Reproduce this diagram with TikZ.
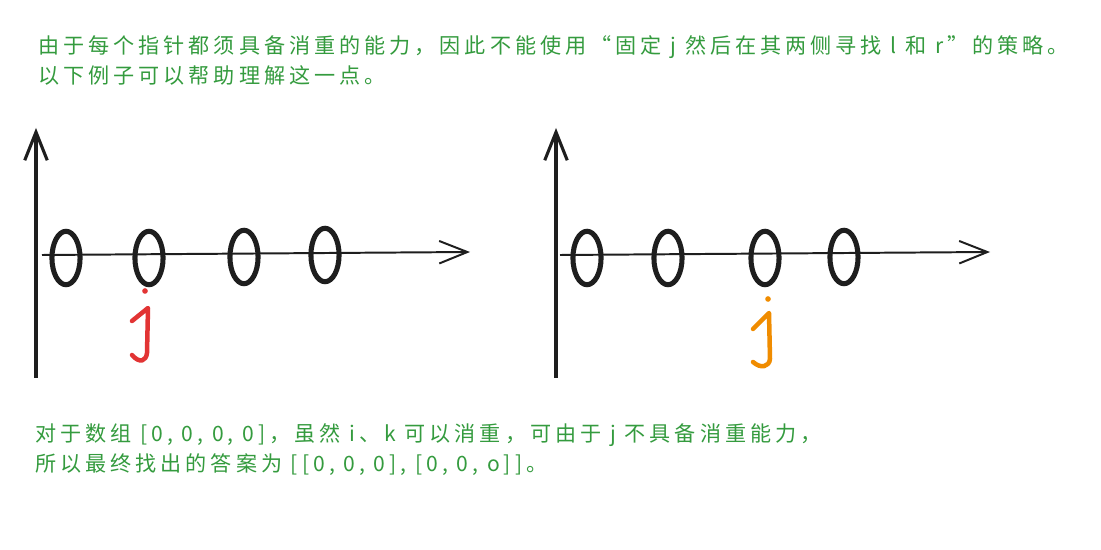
\documentclass[tikz,border=0pt]{standalone}
\usepackage{fontspec}
\usetikzlibrary{arrows.meta,shapes.geometric}
\newfontfamily\cjk[LetterSpace=19]{Noto Sans CJK SC}
\definecolor{notegreen}{RGB}{52,155,62}
\definecolor{jred}{RGB}{226,52,52}
\definecolor{jorange}{RGB}{240,140,0}
\definecolor{ink}{RGB}{30,30,30}
\begin{document}
\begin{tikzpicture}[x=0.025cm, y=-0.025cm,
    note/.style={anchor=west, inner sep=0pt, text=notegreen, font=\cjk\fontsize{15}{18}\selectfont},
    zero/.style={ellipse, draw=ink, line width=3.6pt, minimum width=20pt, minimum height=38pt, inner sep=0pt},
    axis/.style={draw=ink, line width=1.4pt, -{Straight Barb[length=20pt,width=16pt]}},
    jmark/.style={line width=3.2pt, line cap=round, line join=round}]
    \fill[white] (0,0) rectangle (1101,550);
    \useasboundingbox (0,0) rectangle (1101,550);

    % text above
    \node[note] (t1) at (38,47) {由于每个指针都须具备消重的能力，因此不能使用“固定 j 然后在其两侧寻找 l 和 r”的策略。};
    \node[note] (t2) at (38,75) {以下例子可以帮助理解这一点。};

    % left graph
    \coordinate (lo) at (36,378);
    \coordinate (ly) at (36,128);
    \coordinate (lx0) at (42,255);
    \coordinate (lx) at (470,252);
    \draw[axis, line width=2.2pt] (lo) -- (ly);
    \draw[axis] (lx0) -- (lx);
    \node[zero] (l1) at (66,258) {};
    \node[zero] (l2) at (149,258) {};
    \node[zero] (l3) at (244,257) {};
    \node[zero] (l4) at (325,255) {};
    \fill[jred] (145,291) circle (2pt);
    \draw[jred, jmark] (132,321) -- (148,308) -- (147,353) .. controls (146,361) and (140,364) .. (132,355);

    % right graph
    \coordinate (ro) at (556,378);
    \coordinate (ry) at (556,128);
    \coordinate (rx0) at (560,255);
    \coordinate (rx) at (990,252);
    \draw[axis, line width=2.2pt] (ro) -- (ry);
    \draw[axis] (rx0) -- (rx);
    \node[zero] (r1) at (587,258) {};
    \node[zero] (r2) at (668,258) {};
    \node[zero] (r3) at (765,258) {};
    \node[zero] (r4) at (844,257) {};
    \fill[jorange] (768,299) circle (2pt);
    \draw[jorange, jmark] (753,329) -- (769,313) -- (770,359) .. controls (769,367) and (761,369) .. (753,362);

    % text below
    \node[note] (b1) at (35,435) {对于数组 [0, 0, 0, 0]，虽然 i、k 可以消重，可由于 j 不具备消重能力，};
    \node[note] (b2) at (35,465) {所以最终找出的答案为 [[0, 0, 0], [0, 0, o]]。};
\end{tikzpicture}
\end{document}
